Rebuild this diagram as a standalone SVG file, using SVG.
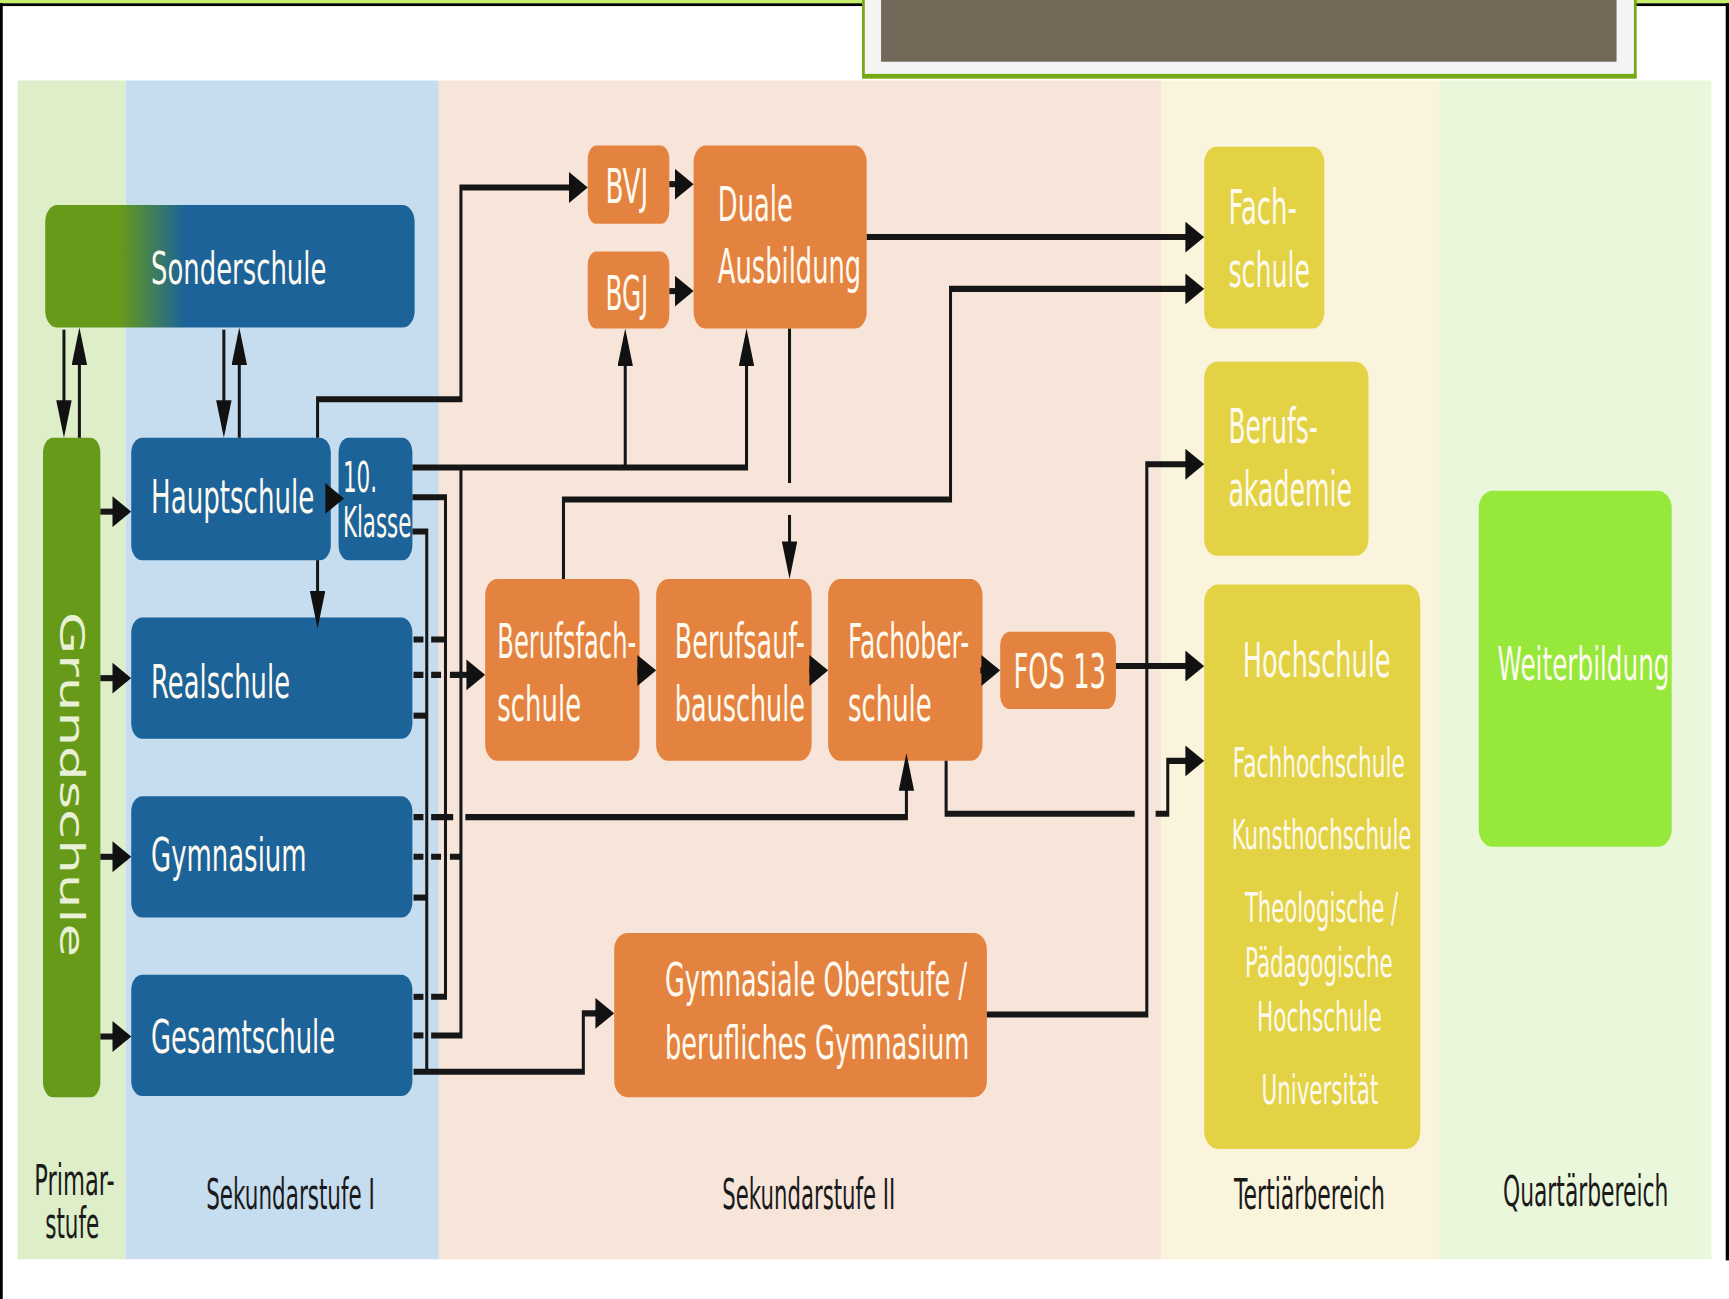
<svg xmlns="http://www.w3.org/2000/svg" width="1729" height="1299" viewBox="0 0 1729 1299">
<defs>
<style>
.t{font-family:"DejaVu Sans","Liberation Sans",sans-serif;fill:#fffaf0}
.g{fill:#e8f0d6}
.b{fill:#1b6399}
.o{fill:#e4833f}
.y{fill:#e3d244}
.c{fill:none;stroke:#161616;stroke-width:5.5;stroke-linejoin:miter}
.a{marker-end:url(#ar)}
.lab{font-family:"DejaVu Sans","Liberation Sans",sans-serif;fill:#1a1a1a}
</style>
<linearGradient id="sg" gradientUnits="userSpaceOnUse" x1="108" y1="0" x2="168" y2="0">
<stop offset="0" stop-color="#679a19"/>
<stop offset="1" stop-color="#1b6399"/>
</linearGradient>
<marker id="ar" markerUnits="userSpaceOnUse" viewBox="0 0 34 28" markerWidth="34" markerHeight="28" refX="27" refY="14" orient="auto">
<path d="M0,0 L34,14 L0,28 z" fill="#111"/>
</marker>
</defs>
<rect width="1729" height="1299" fill="#ffffff"/>
<g transform="scale(1.1027)">
<g id="frame">
<rect x="0" y="0" width="1568" height="3" fill="#c6ed6b"/>
<rect x="0" y="3" width="1568" height="2.5" fill="#000"/>
<rect x="0" y="3" width="2.5" height="1175" fill="#000"/>
<rect x="1565" y="3" width="3" height="1140" fill="#000"/>
<rect x="783" y="-4" width="700" height="74" fill="#f4f4f4" stroke="#77a916" stroke-width="2.5"/>
<rect x="782" y="67" width="702" height="4" fill="#77a916"/>
<rect x="799" y="0" width="667" height="56" fill="#736958"/>
</g>
<g id="bands">
<rect x="16" y="73" width="98" height="1069" fill="#ddeec8"/>
<rect x="114" y="73" width="284" height="1069" fill="#c6ddef"/>
<rect x="398" y="73" width="655" height="1069" fill="#f7e5da"/>
<rect x="1053" y="73" width="252" height="1069" fill="#faf4dc"/>
<rect x="1305" y="73" width="247" height="1069" fill="#ebf7da"/>
<text class="lab" x="31" y="1084" font-size="38" textLength="73" lengthAdjust="spacingAndGlyphs">Primar-</text>
<text class="lab" x="41" y="1123" font-size="38" textLength="49" lengthAdjust="spacingAndGlyphs">stufe</text>
<text class="lab" x="187" y="1096" font-size="38" textLength="153" lengthAdjust="spacingAndGlyphs">Sekundarstufe I</text>
<text class="lab" x="655" y="1096" font-size="38" textLength="157" lengthAdjust="spacingAndGlyphs">Sekundarstufe II</text>
<text class="lab" x="1119" y="1096" font-size="38" textLength="137" lengthAdjust="spacingAndGlyphs">Tertiärbereich</text>
<text class="lab" x="1363" y="1094" font-size="38" textLength="150" lengthAdjust="spacingAndGlyphs">Quartärbereich</text>
</g>
<g id="sonderschule">
<rect x="41" y="186" width="335" height="111" rx="11" ry="15" fill="url(#sg)"/>
<text class="t" x="137" y="258" font-size="40" textLength="159" lengthAdjust="spacingAndGlyphs">Sonderschule</text>
</g>
<g id="grundschule">
<rect x="39" y="397" width="52" height="598" rx="9" ry="14" fill="#679a19"/>
<text class="t g" transform="translate(54,555) rotate(90)" x="0" y="0" font-size="30" textLength="313" lengthAdjust="spacingAndGlyphs">Grundschule</text>
</g>
<g id="hauptschule">
<rect class="b" x="119" y="397" width="181" height="111" rx="10" ry="14"/>
<text class="t" x="137" y="465" font-size="42" textLength="148" lengthAdjust="spacingAndGlyphs">Hauptschule</text>
</g>
<g id="klasse10">
<rect class="b" x="307" y="397" width="67" height="111" rx="9" ry="14"/>
<text class="t" x="311" y="446" font-size="38" textLength="31" lengthAdjust="spacingAndGlyphs">10.</text>
<text class="t" x="311" y="487" font-size="38" textLength="62" lengthAdjust="spacingAndGlyphs">Klasse</text>
</g>
<g id="realschule">
<rect class="b" x="119" y="560" width="255" height="110" rx="10" ry="14"/>
<text class="t" x="137" y="633" font-size="42" textLength="126" lengthAdjust="spacingAndGlyphs">Realschule</text>
</g>
<g id="gymnasium">
<rect class="b" x="119" y="722" width="255" height="110" rx="10" ry="14"/>
<text class="t" x="137" y="790" font-size="42" textLength="141" lengthAdjust="spacingAndGlyphs">Gymnasium</text>
</g>
<g id="gesamtschule">
<rect class="b" x="119" y="884" width="255" height="110" rx="10" ry="14"/>
<text class="t" x="137" y="955" font-size="42" textLength="167" lengthAdjust="spacingAndGlyphs">Gesamtschule</text>
</g>
<g id="bvj">
<rect class="o" x="533" y="132" width="74" height="71" rx="8" ry="12"/>
<text class="t" x="549" y="184" font-size="43" textLength="39" lengthAdjust="spacingAndGlyphs">BVJ</text>
</g>
<g id="bgj">
<rect class="o" x="533" y="228" width="74" height="70" rx="8" ry="12"/>
<text class="t" x="549" y="281" font-size="43" textLength="39" lengthAdjust="spacingAndGlyphs">BGJ</text>
</g>
<g id="duale">
<rect class="o" x="629" y="132" width="157" height="166" rx="11" ry="15"/>
<text class="t" x="651" y="200" font-size="43" textLength="68" lengthAdjust="spacingAndGlyphs">Duale</text>
<text class="t" x="651" y="257" font-size="43" textLength="130" lengthAdjust="spacingAndGlyphs">Ausbildung</text>
</g>
<g id="berufsfachschule">
<rect class="o" x="440" y="525" width="140" height="165" rx="11" ry="15"/>
<text class="t" x="451" y="597" font-size="43" textLength="126" lengthAdjust="spacingAndGlyphs">Berufsfach-</text>
<text class="t" x="451" y="654" font-size="43" textLength="76" lengthAdjust="spacingAndGlyphs">schule</text>
</g>
<g id="berufsaufbauschule">
<rect class="o" x="595" y="525" width="141" height="165" rx="11" ry="15"/>
<text class="t" x="612" y="597" font-size="43" textLength="118" lengthAdjust="spacingAndGlyphs">Berufsauf-</text>
<text class="t" x="612" y="654" font-size="43" textLength="118" lengthAdjust="spacingAndGlyphs">bauschule</text>
</g>
<g id="fachoberschule">
<rect class="o" x="751" y="525" width="140" height="165" rx="11" ry="15"/>
<text class="t" x="769" y="597" font-size="43" textLength="110" lengthAdjust="spacingAndGlyphs">Fachober-</text>
<text class="t" x="769" y="654" font-size="43" textLength="76" lengthAdjust="spacingAndGlyphs">schule</text>
</g>
<g id="fos13">
<rect class="o" x="907" y="573" width="105" height="70" rx="9" ry="12"/>
<text class="t" x="919" y="624" font-size="43" textLength="84" lengthAdjust="spacingAndGlyphs">FOS 13</text>
</g>
<g id="gymnasiale">
<rect class="o" x="557" y="846" width="338" height="149" rx="12" ry="15"/>
<text class="t" x="603" y="903" font-size="42" textLength="274" lengthAdjust="spacingAndGlyphs">Gymnasiale Oberstufe /</text>
<text class="t" x="603" y="960" font-size="42" textLength="276" lengthAdjust="spacingAndGlyphs">berufliches Gymnasium</text>
</g>
<g id="fachschule">
<rect class="y" x="1092" y="133" width="109" height="165" rx="11" ry="15"/>
<text class="t" x="1114" y="203" font-size="43" textLength="62" lengthAdjust="spacingAndGlyphs">Fach-</text>
<text class="t" x="1114" y="260" font-size="43" textLength="74" lengthAdjust="spacingAndGlyphs">schule</text>
</g>
<g id="berufsakademie">
<rect class="y" x="1092" y="328" width="149" height="176" rx="12" ry="15"/>
<text class="t" x="1114" y="402" font-size="43" textLength="81" lengthAdjust="spacingAndGlyphs">Berufs-</text>
<text class="t" x="1114" y="459" font-size="43" textLength="112" lengthAdjust="spacingAndGlyphs">akademie</text>
</g>
<g id="hochschule">
<rect class="y" x="1092" y="530" width="196" height="512" rx="13" ry="16"/>
<text class="t" x="1127" y="614" font-size="43" textLength="134" lengthAdjust="spacingAndGlyphs">Hochschule</text>
<text class="t" x="1118" y="705" font-size="37" textLength="156" lengthAdjust="spacingAndGlyphs">Fachhochschule</text>
<text class="t" x="1117" y="770" font-size="37" textLength="163" lengthAdjust="spacingAndGlyphs">Kunsthochschule</text>
<text class="t" x="1129" y="836" font-size="37" textLength="139" lengthAdjust="spacingAndGlyphs">Theologische /</text>
<text class="t" x="1129" y="886" font-size="37" textLength="134" lengthAdjust="spacingAndGlyphs">Pädagogische</text>
<text class="t" x="1140" y="935" font-size="37" textLength="113" lengthAdjust="spacingAndGlyphs">Hochschule</text>
<text class="t" x="1144" y="1001" font-size="37" textLength="106" lengthAdjust="spacingAndGlyphs">Universität</text>
</g>
<g id="weiterbildung">
<rect x="1341" y="445" width="175" height="323" rx="13" ry="16" fill="#96e83a"/>
<text class="t" x="1358" y="617" font-size="42" textLength="156" lengthAdjust="spacingAndGlyphs">Weiterbildung</text>
</g>
<g id="connectors" transform="scale(0.5 1)">
<path class="c a" d="M116,299 V390"/>
<path class="c a" d="M144,397 V304"/>
<path class="c a" d="M406,299 V390"/>
<path class="c a" d="M434,397 V304"/>
<path class="c a" d="M182,464 H231"/>
<path class="c a" d="M182,615 H231"/>
<path class="c a" d="M182,777 H231"/>
<path class="c a" d="M182,940 H231"/>
<path class="c a" d="M596,452 H617"/>
<path class="c a" d="M576,508 V563"/>
<path class="c a" d="M576,397 V362 H836 V170 H1059"/>
<path class="c a" d="M1214,167 H1251"/>
<path class="c a" d="M1214,264 H1251"/>
<path class="c a" d="M748,424 H1354 V305"/>
<path class="c a" d="M1134,424 V305"/>
<path class="c" d="M782,939 H836 V424"/>
<path class="c a" d="M836,612 H873"/>
<path class="c" d="M748,451 H808 V904 H782"/>
<path class="c" d="M748,482 H774 V972"/>
<path class="c a" d="M750,972 H1058 V919 H1107"/>
<path class="c" d="M750,580 H768 M782,580 H808"/>
<path class="c" d="M750,612 H768 M782,612 H800 M816,612 H836"/>
<path class="c" d="M750,649 H774"/>
<path class="c" d="M750,741 H768 M782,741 H822"/>
<path class="c a" d="M844,741 H1644 V690"/>
<path class="c" d="M750,777 H768 M782,777 H800 M816,777 H836"/>
<path class="c" d="M750,814 H774"/>
<path class="c" d="M750,904 H768"/>
<path class="c" d="M750,939 H768"/>
<path class="c a" d="M1022,525 V453 H1724 V262 H2177"/>
<path class="c a" d="M1572,215 H2177"/>
<path class="c" d="M1432,298 V438"/>
<path class="c a" d="M1432,467 V518"/>
<path class="c a" d="M1156,608 H1183"/>
<path class="c a" d="M1468,608 H1495"/>
<path class="c a" d="M1778,608 H1807"/>
<path class="c a" d="M2024,604 H2177"/>
<path class="c a" d="M1790,920 H2080 V421 H2177"/>
<path class="c" d="M1716,690 V738 H2058"/>
<path class="c a" d="M2096,738 H2118 V690 H2177"/>
</g>
</g>
</svg>
